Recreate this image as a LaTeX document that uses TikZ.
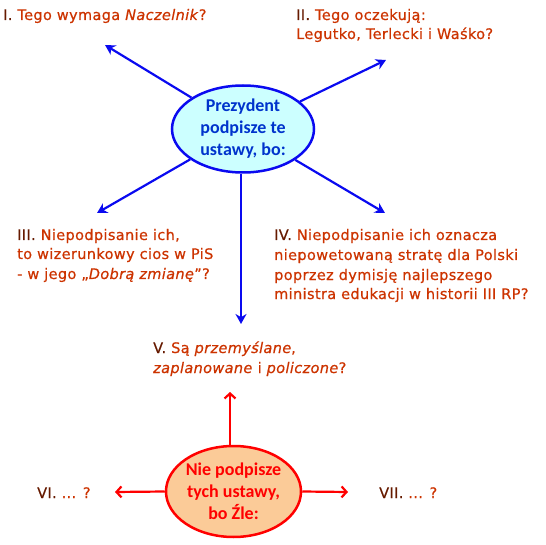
\documentclass[tikz,border=0pt]{standalone}
\usepackage{fontspec}
\setmainfont{DejaVu Sans}[FakeBold=0.6,LetterSpace=2.5]
\newfontfamily\ellfont{Carlito}
\usetikzlibrary{shapes.geometric,arrows.meta}
\definecolor{numc}{HTML}{661A00}
\definecolor{txtc}{HTML}{CC3300}
\definecolor{blueln}{HTML}{0A0AF0}
\definecolor{bluetx}{HTML}{0033CC}
\definecolor{bluefill}{HTML}{CCFFFF}
\definecolor{redln}{HTML}{FF0000}
\definecolor{peach}{HTML}{FBCB98}
\newcommand{\nm}[1]{\textcolor{numc}{#1}}
\begin{document}
\begin{tikzpicture}[x=1pt,y=-1pt,
  txt/.style={anchor=base west, inner sep=0pt, font=\fontsize{14.5}{18}\selectfont, text=txtc},
  ell/.style={ellipse, inner sep=0pt, line width=2.5pt, align=center,
    font=\ellfont\bfseries\fontsize{18}{22}\selectfont},
  barrow/.style={draw=blueln, line width=2.2pt, -{Stealth[length=10pt,width=11pt]}},
  rarrow/.style={draw=redln, line width=2.2pt, -{Straight Barb[length=5pt,width=11pt]}}]
\useasboundingbox (0,0) rectangle (546,545);

% central blue ellipse
\node[ell, draw=blueln, fill=bluefill, text=bluetx, minimum width=142pt, minimum height=87pt]
  (pres) at (243,129) {Prezydent\\podpisze te\\ustawy, bo:};

% red ellipse
\node[ell, draw=redln, fill=peach, text=redln, minimum width=135pt, minimum height=91pt]
  (nie) at (233.5,491.5) {Nie podpisze\\tych ustawy,\\bo Źle:};

% arrow tips
\coordinate (t1) at (105,45);
\coordinate (t2) at (386,60);
\coordinate (t3) at (97,213);
\coordinate (t4) at (385,213);
\coordinate (t5) at (241,324);
\coordinate (t6) at (115,492);
\coordinate (t7) at (348,492);
\coordinate (t8) at (230,392);

\draw[barrow] (pres) -- (t1);
\draw[barrow] (pres) -- (t2);
\draw[barrow] (pres) -- (t3);
\draw[barrow] (pres) -- (t4);
\draw[barrow] (pres.south -| t5) -- (t5);

\draw[rarrow] (nie.north -| t8) -- (t8);
\draw[rarrow] (nie.west) -- (t6);
\draw[rarrow] (nie.east) -- (t7);

% texts
\node[txt] (l1) at (3,20) {\nm{I.} Tego wymaga \textit{Naczelnik}?};

\node[txt] (l2a) at (296,20) {\nm{II.} Tego oczekują:};
\node[txt] (l2b) at (296,39) {Legutko, Terlecki i Waśko?};

\node[txt] (l3a) at (17,240) {\nm{III.} Niepodpisanie ich,};
\node[txt] (l3b) at (17,259) {to wizerunkowy cios w PiS};
\node[txt] (l3c) at (17,279) {- w jego „\textit{Dobrą zmianę}”?};

\node[txt] (l4a) at (274,240) {\nm{IV.} Niepodpisanie ich oznacza};
\node[txt] (l4b) at (274,260) {niepowetowaną stratę dla Polski};
\node[txt] (l4c) at (274,280) {poprzez dymisję najlepszego};
\node[txt] (l4d) at (274,299) {ministra edukacji w historii III RP?};

\node[txt] (l5a) at (153,353) {\nm{V.} Są \textit{przemyślane},};
\node[txt] (l5b) at (153,373) {\textit{zaplanowane} i \textit{policzone}?};

\node[txt] (l6) at (37,498) {\nm{VI.} ... ?};
\node[txt] (l7) at (379,498) {\nm{VII.} ... ?};
\end{tikzpicture}
\end{document}
